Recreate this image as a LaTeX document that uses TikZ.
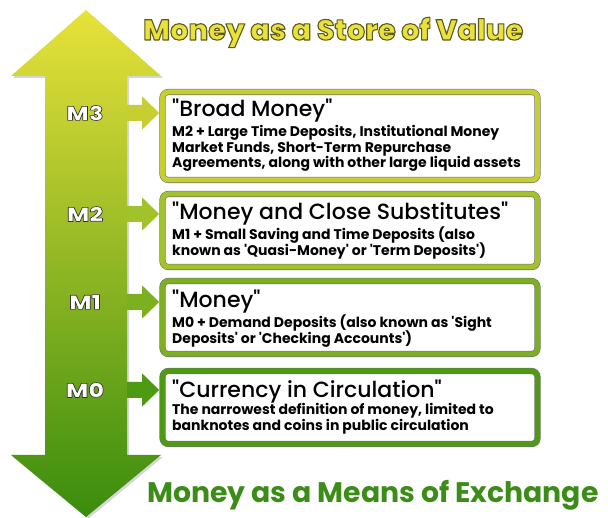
\documentclass[tikz,border=0pt]{standalone}
\usepackage{fontspec}
\setmainfont{Poppins}
\newfontfamily\headfont{Poppins}[UprightFont=* Medium]
\newfontfamily\heavyfont{Poppins}[UprightFont=* ExtraBold]
\usetikzlibrary{calc,shadows}
\definecolor{cy}{HTML}{E8E23A}
\definecolor{cmid}{HTML}{98BE2A}
\definecolor{cg}{HTML}{3A8C0E}
\definecolor{f3}{HTML}{C6CE32}
\definecolor{f2}{HTML}{A2C22C}
\definecolor{f1}{HTML}{7CB020}
\definecolor{f0}{HTML}{4E9A12}
\definecolor{tgreen}{HTML}{3C8C18}
\newcommand\otext[3]{\special{pdf:code #1 RG #2 w 1 j 2 Tr}#3\special{pdf:code 0 Tr}}
\newcommand\q{\textquotedbl}
\newcommand\sq{\textquotesingle}
\tikzset{
  mbox/.style={draw=black!55, double=#1, double distance=5pt, line width=0.6pt,
    fill=white, rounded corners=6pt, minimum width=375pt,
    drop shadow={shadow xshift=2.5pt, shadow yshift=-2.5pt, opacity=0.55}},
  lbl/.style={text=white, xscale=1.2, font=\heavyfont\fontsize{20}{24}\selectfont},
  head/.style={anchor=base west, inner sep=0pt, font=\headfont\fontsize{22}{26}\selectfont},
  body/.style={anchor=base west, inner sep=0pt, font=\bfseries\fontsize{14}{16}\selectfont},
}
\begin{document}
\begin{tikzpicture}[x=1pt,y=-1pt]
\useasboundingbox (0,0) rectangle (608,518);
% big double arrow
\fill[black!40, opacity=0.4] (88,12) -- (163,78) -- (129,78) -- (129,457) -- (163,457) -- (88,519) -- (13,457) -- (47,457) -- (47,78) -- (13,78) -- cycle;
\shade[top color=cy, middle color=cmid, bottom color=cg]
  (86,10) -- (161,76) -- (127,76) -- (127,455) -- (161,455) -- (86,517) -- (11,455) -- (45,455) -- (45,76) -- (11,76) -- cycle;

% titles
\node[anchor=base west, inner sep=0pt, text=cy, font=\heavyfont\fontsize{28.8}{32}\selectfont] (top) at (143,40)
  {\otext{0.37 0.35 0.11}{1.1}{Money as a Store of Value}};
\node[anchor=base west, inner sep=0pt, text=tgreen, font=\bfseries\fontsize{28.3}{31}\selectfont] (bot) at (147,503)
  {Money as a Means of Exchange};

% boxes
\node[mbox=f3, minimum height=88pt] (b3) at (350,136) {};
\node[mbox=f2, minimum height=73pt] (b2) at (350,230.5) {};
\node[mbox=f1, minimum height=73pt] (b1) at (350,317.5) {};
\node[mbox=f0, minimum height=73pt] (b0) at (350,407.5) {};

% labels
\node[lbl] (m3) at (85,113) {\otext{0.2 0.2 0.2}{0.6}{M3}};
\node[lbl] (m2) at (85,214) {\otext{0.2 0.2 0.2}{0.6}{M2}};
\node[lbl] (m1) at (85,302) {\otext{0.2 0.2 0.2}{0.6}{M1}};
\node[lbl] (m0) at (85,390) {\otext{0.2 0.2 0.2}{0.6}{M0}};

% connectors
\foreach \m/\b/\c in {m3/b3/f3, m2/b2/f2, m1/b1/f1, m0/b0/f0}{
  \coordinate (s) at ($(\m.center)+(42,0)$);
  \coordinate (t) at ($(\b.west |- s)+(-3,0)$);
  \fill[\c] ($(s)+(0,-8)$) -- ($(t)+(-17,-8)$) -- ($(t)+(-17,-16.5)$) -- (t)
     -- ($(t)+(-17,16.5)$) -- ($(t)+(-17,8)$) -- ($(s)+(0,8)$) -- cycle;
}

% texts
\node[head] (h3) at (172,117) {\q Broad Money\q};
\node[body] (t3a) at (172,137) {M2 + Large Time Deposits, Institutional Money};
\node[body] (t3b) at (172,152.5) {Market Funds, Short-Term Repurchase};
\node[body] (t3c) at (172,168) {Agreements, along with other large liquid assets};

\node[head] (h2) at (172,220) {\q Money and Close Substitutes\q};
\node[body] (t2a) at (172,240) {M1 + Small Saving and Time Deposits (also};
\node[body] (t2b) at (172,256) {known as \sq Quasi-Money\sq{} or \sq Term Deposits\sq)};

\node[head] (h1) at (172,308) {\q Money\q};
\node[body] (t1a) at (172,328) {M0 + Demand Deposits (also known as \sq Sight};
\node[body] (t1b) at (172,344) {Deposits\sq{} or \sq Checking Accounts\sq)};

\node[head] (h0) at (172,398) {\q Currency in Circulation\q};
\node[body] (t0a) at (172,415) {The narrowest definition of money, limited to};
\node[body] (t0b) at (172,431) {banknotes and coins in public circulation};
\end{tikzpicture}
\end{document}
